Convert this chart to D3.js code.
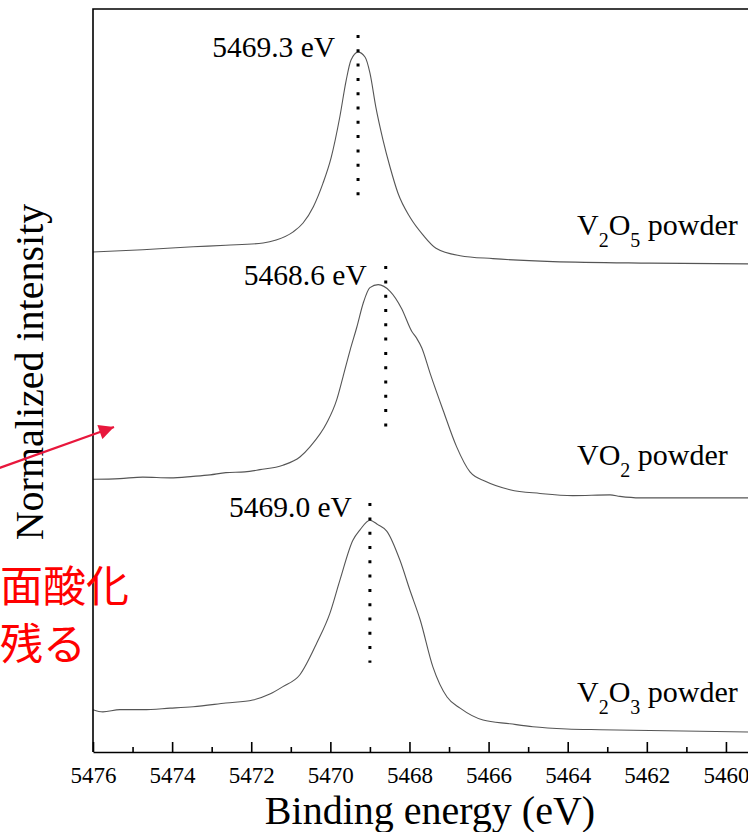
<!DOCTYPE html>
<html>
<head>
<meta charset="utf-8">
<script src="https://cdn.jsdelivr.net/npm/d3@7"></script>
<style>
  html, body { margin: 0; padding: 0; background: #fff; }
  svg { display: block; }
</style>
</head>
<body>
<svg id="chart" width="748" height="832"></svg>
<script>
// V K-edge XPS spectra of vanadium oxide powders (binding energy in eV, stacked normalized intensity)
const v2o5Energy = [5476.00, 5474.74, 5473.47, 5472.64, 5471.70, 5471.37, 5470.94, 5470.69, 5470.43, 5470.19, 5469.98, 5469.76, 5469.60, 5469.48, 5469.30, 5469.12, 5469.00, 5468.85, 5468.67, 5468.49, 5468.29, 5467.99, 5467.66, 5467.33, 5466.72, 5465.89, 5464.37, 5461.92, 5459.44];
const v2o5Intensity = [6.73, 6.76, 6.80, 6.82, 6.85, 6.89, 7.00, 7.12, 7.34, 7.65, 8.00, 8.55, 9.04, 9.31, 9.42, 9.35, 9.14, 8.68, 8.24, 7.87, 7.52, 7.20, 6.96, 6.78, 6.68, 6.64, 6.60, 6.58, 6.57];

const vo2Energy = [5476.00, 5475.32, 5474.74, 5474.05, 5473.47, 5473.04, 5472.64, 5472.16, 5471.78, 5471.20, 5470.77, 5470.51, 5470.09, 5469.84, 5469.68, 5469.50, 5469.33, 5469.17, 5469.00, 5468.79, 5468.49, 5468.20, 5467.94, 5467.82, 5467.69, 5467.48, 5467.15, 5466.81, 5466.47, 5466.07, 5465.46, 5464.70, 5463.87, 5462.93, 5462.68, 5462.17, 5460.66, 5459.44];
const vo2Intensity = [3.67, 3.68, 3.70, 3.69, 3.71, 3.73, 3.76, 3.77, 3.80, 3.86, 3.97, 4.11, 4.43, 4.74, 5.05, 5.41, 5.72, 6.04, 6.25, 6.29, 6.20, 5.97, 5.66, 5.57, 5.44, 5.10, 4.60, 4.11, 3.77, 3.64, 3.53, 3.48, 3.45, 3.46, 3.44, 3.42, 3.42, 3.42];

const v2o3Energy = [5476.00, 5475.75, 5475.32, 5474.74, 5474.05, 5473.47, 5472.64, 5471.96, 5471.53, 5471.20, 5470.77, 5470.34, 5470.01, 5469.76, 5469.43, 5469.25, 5469.00, 5468.80, 5468.57, 5468.24, 5467.99, 5467.73, 5467.41, 5467.05, 5466.72, 5466.14, 5465.46, 5464.88, 5464.02, 5463.18, 5461.92, 5460.66, 5459.44];
const v2o3Intensity = [0.57, 0.54, 0.57, 0.57, 0.59, 0.61, 0.66, 0.70, 0.78, 0.88, 1.04, 1.47, 1.87, 2.31, 2.85, 2.99, 3.12, 3.06, 2.97, 2.58, 2.18, 1.78, 1.15, 0.74, 0.59, 0.43, 0.38, 0.34, 0.31, 0.30, 0.29, 0.28, 0.27];

const sampleNames = [["V", "2", "O", "5", " powder"], ["V", "", "O", "2", " powder"], ["V", "2", "O", "3", " powder"]];
const peakEnergies = [5469.3, 5468.6, 5469.0];
const peakLabels = ["5469.3 eV", "5468.6 eV", "5469.0 eV"];
const majorTicks = [5476, 5474, 5472, 5470, 5468, 5466, 5464, 5462, 5460];
const minorTicks = [5475, 5473, 5471, 5469, 5467, 5465, 5463, 5461];
const xTitle = "Binding energy (eV)";
const yTitle = "Normalized intensity";
const noteLines = ["面酸化", "残る"];

// ---- layout ----
const svg = d3.select("#chart");
const plotLeft = 93, plotTop = 9, plotBottom = 752, plotRight = 765.5;
const serif = "'Liberation Serif', 'Times New Roman', serif";

const x = d3.scaleLinear().domain([5476, 5459]).range([plotLeft, plotRight]);
const y = d3.scaleLinear().domain([0, 10]).range([plotBottom, plotTop]);

const series = [
  { e: v2o5Energy, v: v2o5Intensity },
  { e: vo2Energy, v: vo2Intensity },
  { e: v2o3Energy, v: v2o3Intensity }
];

// spectra
const line = d3.line().x(d => x(d[0])).y(d => y(d[1])).curve(d3.curveMonotoneX);
svg.append("g").selectAll("path").data(series).join("path")
  .attr("d", s => line(s.e.map((e, i) => [e, s.v[i]])))
  .attr("fill", "none")
  .attr("stroke", "#555")
  .attr("stroke-width", 1.1);

// frame (left and top edges; right edge lies past the window)
svg.append("path")
  .attr("d", `M${plotLeft},${plotBottom}V${plotTop}H${plotRight}V${plotBottom}`)
  .attr("fill", "none").attr("stroke", "#000").attr("stroke-width", 1.6);

// bottom axis with inward ticks
const gx = svg.append("g").attr("transform", `translate(0,${plotBottom})`)
  .attr("font-family", serif);
gx.call(d3.axisBottom(x).tickValues(majorTicks).tickSize(-10).tickSizeOuter(0).tickPadding(15).tickFormat(d3.format("d")));
gx.attr("font-family", serif).attr("font-size", 23);
gx.select(".domain").attr("stroke", "#000").attr("stroke-width", 1.6);
gx.selectAll(".tick line").attr("stroke", "#000").attr("stroke-width", 1.6);
gx.selectAll(".tick text").attr("font-family", serif).attr("font-size", 23).attr("fill", "#000");
const gm = svg.append("g").attr("transform", `translate(0,${plotBottom})`);
gm.call(d3.axisBottom(x).tickValues(minorTicks).tickSize(-5).tickSizeOuter(0).tickFormat(""));
gm.select(".domain").remove();
gm.selectAll(".tick line").attr("stroke", "#000").attr("stroke-width", 1.6);

// peak position markers (dotted) and their labels
const markerSpan = [[9.65, 7.47], [6.54, 4.37], [3.35, 1.20]];
const labelShift = [[-23, 21.5], [-19, 19], [-18, 14]];
peakEnergies.forEach((pe, i) => {
  const px = x(pe);
  svg.append("line")
    .attr("x1", px).attr("x2", px)
    .attr("y1", y(markerSpan[i][0])).attr("y2", y(markerSpan[i][1]))
    .attr("stroke", "#000").attr("stroke-width", 3)
    .attr("stroke-dasharray", "3 11.3");
  svg.append("text")
    .attr("x", px + labelShift[i][0])
    .attr("y", y(markerSpan[i][0]) + labelShift[i][1])
    .attr("text-anchor", "end")
    .attr("font-family", serif).attr("font-size", 29.5).attr("fill", "#000")
    .text(peakLabels[i]);
});

// sample names with subscripts
const nameBaselines = [235, 465, 701.5];
sampleNames.forEach((parts, i) => {
  const t = svg.append("text")
    .attr("x", 577).attr("y", nameBaselines[i])
    .attr("font-family", serif).attr("font-size", 30).attr("fill", "#000");
  t.append("tspan").text(parts[0]);
  if (parts[1]) t.append("tspan").attr("font-size", 20).attr("dy", 12).text(parts[1]);
  t.append("tspan").attr("dy", parts[1] ? -12 : 0).text(parts[2]);
  t.append("tspan").attr("font-size", 20).attr("dy", 12).text(parts[3]);
  t.append("tspan").attr("dy", -12).text(parts[4]);
});

// axis titles
svg.append("text")
  .attr("x", 430).attr("y", 824)
  .attr("text-anchor", "middle")
  .attr("font-family", serif).attr("font-size", 40).attr("fill", "#000")
  .text(xTitle);
svg.append("text")
  .attr("transform", "translate(43,372) rotate(-90)")
  .attr("text-anchor", "middle")
  .attr("font-family", serif).attr("font-size", 40).attr("fill", "#000")
  .text(yTitle);

// red annotation
const defs = svg.append("defs");
defs.append("marker")
  .attr("id", "head").attr("viewBox", "0 0 10 10")
  .attr("refX", 10).attr("refY", 5)
  .attr("markerWidth", 16).attr("markerHeight", 15)
  .attr("markerUnits", "userSpaceOnUse")
  .attr("orient", "auto")
  .append("path").attr("d", "M0,0L10,5L0,10z").attr("fill", "#e8173c");
svg.append("line")
  .attr("x1", -2).attr("y1", 468.5).attr("x2", 114).attr("y2", 427)
  .attr("stroke", "#e8173c").attr("stroke-width", 2.2)
  .attr("marker-end", "url(#head)");
const noteFont = "'Noto Sans CJK JP', 'Noto Sans CJK SC', sans-serif";
svg.append("text").attr("x", 0).attr("y", 602)
  .attr("font-family", noteFont).attr("font-size", 43).attr("fill", "#ff0000")
  .text(noteLines[0]);
svg.append("text").attr("x", 0).attr("y", 660)
  .attr("font-family", noteFont).attr("font-size", 43).attr("fill", "#ff0000")
  .text(noteLines[1]);
</script>
</body>
</html>
